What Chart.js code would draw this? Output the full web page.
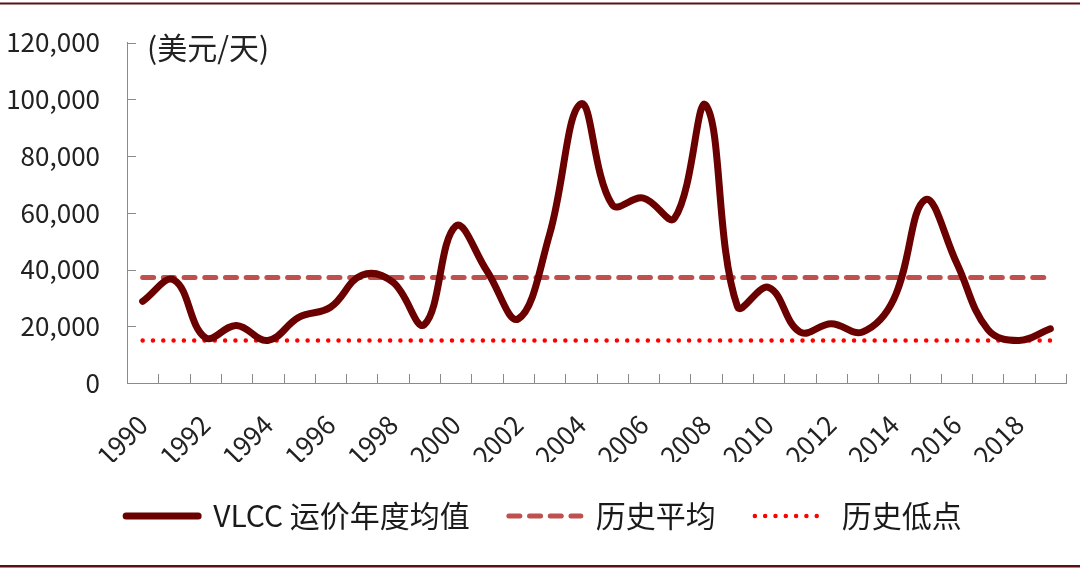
<!DOCTYPE html>
<html lang="zh">
<head>
<meta charset="UTF-8">
<title>VLCC 运价年度均值</title>
<script src="https://cdn.jsdelivr.net/npm/chart.js"></script>
<style>
  html, body { margin: 0; padding: 0; background: #fff; }
  #wrap { position: relative; width: 1080px; height: 571px; }
</style>
</head>
<body>
<div id="wrap"><canvas id="vlccChart"></canvas></div>
<script>
// years on the x axis
const years = ['1990', '1991', '1992', '1993', '1994', '1995', '1996', '1997', '1998', '1999',
               '2000', '2001', '2002', '2003', '2004', '2005', '2006', '2007', '2008', '2009',
               '2010', '2011', '2012', '2013', '2014', '2015', '2016', '2017', '2018', '2019'];

// VLCC annual average rate, USD/day
const vlccRate = [28800, 36300, 16000, 20300, 15000, 23200, 26700, 38000, 35500, 20600,
                  55300, 39500, 22600, 52400, 98400, 62900, 65200, 58200, 97900, 27000,
                  33700, 18000, 20900, 18000, 29600, 64600, 42500, 18900, 15000, 19100];

const histAvg = 37200;   // 历史平均
const histLow = 15000;   // 历史低点

const yTicks = [0, 20000, 40000, 60000, 80000, 100000, 120000];
const unitLabel = '(美元/天)';
const seriesNames = ['VLCC 运价年度均值', '历史平均', '历史低点'];

const cjk = "'Noto Sans CJK SC', 'Noto Sans', sans-serif";

// white background, frame lines, inner tick marks and unit text
const framePlugin = {
    id: 'frame',
    beforeDraw(chart) {
        const ctx = chart.ctx;
        ctx.save();
        ctx.fillStyle = '#fff';
        ctx.fillRect(0, 0, chart.width, chart.height);
        ctx.restore();
    },
    afterDraw(chart) {
        const ctx = chart.ctx;
        const x = chart.scales.x;
        const y = chart.scales.y;
        ctx.save();
        ctx.strokeStyle = '#8a8a8a';
        ctx.lineWidth = 1;
        ctx.beginPath();
        const step = (x.right - x.left) / years.length;
        for (let k = 1; k <= years.length; k++) {
            const px = Math.round(x.left + k * step) + 0.5;
            ctx.moveTo(px, y.bottom);
            ctx.lineTo(px, y.bottom - 9);
        }
        y.ticks.forEach((t, i) => {
            if (i === 0) return;
            const py = Math.round(y.getPixelForTick(i)) + 0.5;
            ctx.moveTo(x.left, py);
            ctx.lineTo(x.left + 9, py);
        });
        ctx.stroke();

        ctx.fillStyle = '#222';
        ctx.font = '30px ' + cjk;
        ctx.textBaseline = 'middle';
        ctx.fillText(unitLabel, x.left + 20, 48);

        ctx.fillStyle = '#5c0f16';
        ctx.fillRect(0, 2.5, chart.width, 2);
        ctx.fillRect(0, 565, chart.width, 2.5);
        ctx.restore();
    }
};

function initChart() {
    const ctx = document.getElementById('vlccChart').getContext('2d');
    new Chart(ctx, {
        type: 'line',
        data: {
            labels: years,
            datasets: [{
                label: seriesNames[0],
                data: vlccRate,
                borderColor: '#6b0000',
                borderWidth: 7,
                borderCapStyle: 'round',
                borderJoinStyle: 'round',
                tension: 0.4,
                pointRadius: 0,
                order: 0
            }, {
                label: seriesNames[1],
                data: years.map(() => histAvg),
                borderColor: '#c0504d',
                borderWidth: 5,
                borderDash: [11, 9.7],
                borderCapStyle: 'round',
                pointRadius: 0,
                order: 1
            }, {
                label: seriesNames[2],
                data: years.map(() => histLow),
                borderColor: '#ff0000',
                borderWidth: 4.5,
                borderDash: [0.01, 10.3],
                borderCapStyle: 'round',
                pointRadius: 0,
                order: 2
            }]
        },
        options: {
            responsive: true,
            maintainAspectRatio: false,
            animation: false,
            layout: { padding: { left: 8, right: 0, top: 32, bottom: 30 } },
            plugins: {
                tooltip: { enabled: false },
                legend: {
                    position: 'bottom',
                    labels: {
                        usePointStyle: true,
                        pointStyleWidth: 72,
                        padding: 39,
                        color: '#1a1a1a',
                        font: { family: cjk, size: 30 },
                        generateLabels(chart) {
                            return chart.data.datasets.map((ds, i) => ({
                                text: ds.label,
                                datasetIndex: i,
                                pointStyle: 'line',
                                strokeStyle: ds.borderColor,
                                fillStyle: ds.borderColor,
                                lineWidth: ds.borderWidth,
                                lineDash: ds.borderDash || [],
                                lineCap: ds.borderCapStyle || 'butt',
                                fontColor: '#1a1a1a',
                                hidden: false
                            }));
                        }
                    }
                }
            },
            scales: {
                x: {
                    offset: true,
                    grid: { display: false, offset: true, drawTicks: false },
                    border: { display: true, color: '#8a8a8a', width: 1 },
                    afterFit(scale) { scale.height = 79; },
                    ticks: {
                        autoSkip: false,
                        minRotation: 45,
                        maxRotation: 45,
                        padding: 26,
                        color: '#222',
                        font: { family: cjk, size: 26 },
                        callback(value, index) {
                            return index % 2 === 0 ? years[index] : null;
                        }
                    }
                },
                y: {
                    min: 0,
                    max: 120000,
                    afterFit(scale) { scale.width = 119; },
                    afterBuildTicks(scale) { scale.ticks = yTicks.map(v => ({ value: v })); },
                    grid: { display: false, drawTicks: false },
                    border: { display: true, color: '#8a8a8a', width: 1 },
                    ticks: {
                        padding: 27,
                        color: '#222',
                        font: { family: cjk, size: 26 },
                        callback(value) { return value.toLocaleString('en-US'); }
                    }
                },
                // empty right margin
                yRight: {
                    position: 'right',
                    grid: { display: false, drawTicks: false },
                    border: { display: false },
                    ticks: { display: false },
                    afterFit(scale) { scale.width = 14; }
                }
            }
        },
        plugins: [framePlugin]
    });
}

initChart();
</script>
</body>
</html>
